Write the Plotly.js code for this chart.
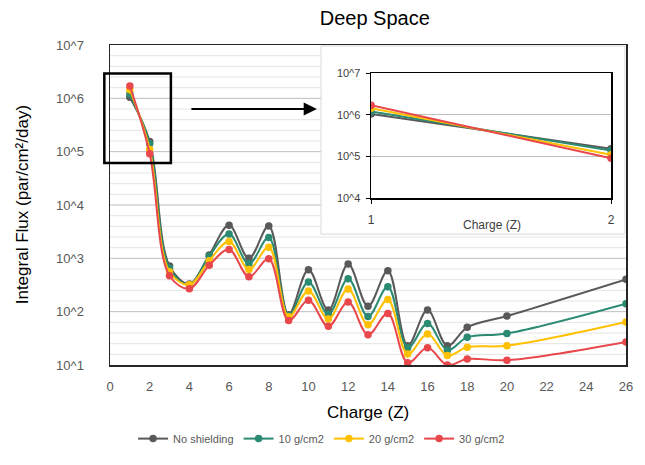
<!DOCTYPE html>
<html>
<head>
<meta charset="utf-8">
<script src="https://cdn.plot.ly/plotly-3.0.1.min.js"></script>
<style>html,body{margin:0;padding:0;background:#fff;}#chart{width:645px;height:465px;}</style>
</head>
<body>
<div id="chart"></div>
<script>
// ---- data ----
var charge = [1, 2, 3, 4, 5, 6, 7, 8, 9, 10, 11, 12, 13, 14, 15, 16, 17, 18, 20, 26];
var noShielding = [1.05e6, 1.55e5, 720, 330, 1150, 4150, 1000, 4040, 88, 612, 107, 787, 126, 585, 23, 107, 23, 51, 83, 404];
var shield10 = [1.2e6, 1.4e5, 650, 320, 1100, 2850, 790, 2450, 85, 361, 89, 415, 81, 294, 21, 60, 19, 33, 39, 141];
var shield20 = [1.45e6, 1.1e5, 560, 320, 900, 2070, 620, 1620, 80, 245, 73, 265, 57, 169, 16, 38, 15, 21.5, 23, 64];
var shield30 = [1.7e6, 9.1e4, 470, 270, 740, 1460, 450, 980, 68, 163, 53, 151, 37, 92, 11, 21, 10, 13, 12.3, 27];
var seriesNames = ['No shielding', '10 g/cm2', '20 g/cm2', '30 g/cm2'];
var xTicks = [0, 2, 4, 6, 8, 10, 12, 14, 16, 18, 20, 22, 24, 26];
var yTickVals = [10, 100, 1000, 1e4, 1e5, 1e6, 1e7];
var yTickText = ['10^1', '10^2', '10^3', '10^4', '10^5', '10^6', '10^7'];
var insetX = [1, 2];
var insetYVals = [1e4, 1e5, 1e6, 1e7];
var insetYText = ['10^4', '10^5', '10^6', '10^7'];

var colors = ['#595959', '#2b8a72', '#ffc000', '#e8474b'];
var allSeries = [noShielding, shield10, shield20, shield30];
var FONT = 'Liberation Sans, Arial, sans-serif';

var traces = [];
allSeries.forEach(function (s, i) {
  traces.push({
    x: charge, y: s, name: seriesNames[i], type: 'scatter', mode: 'lines+markers',
    line: {color: colors[i], width: 2, shape: 'spline', smoothing: 1},
    marker: {color: colors[i], size: 7.5},
    xaxis: 'x', yaxis: 'y'
  });
});
allSeries.forEach(function (s, i) {
  traces.push({
    x: charge.slice(0, 2), y: s.slice(0, 2), name: seriesNames[i], type: 'scatter', mode: 'lines+markers',
    line: {color: colors[i], width: 2},
    marker: {color: colors[i], size: 7.5},
    showlegend: false,
    xaxis: 'x2', yaxis: 'y2'
  });
});

// ---- decorations: gridlines (stop at inset box) ----
var insetBox = {x0: 0.409, x1: 0.998, y0: 0.409, y1: 0.997};
var shapes = [];
for (var d = 1; d < 7; d++) {
  for (var k = 0; k < 5; k++) {
    var lg = d + k / 5;
    if (lg <= 1.0001) continue;
    var py = (lg - 1) / 6;
    var xEnd = (py > insetBox.y0 && py < insetBox.y1) ? insetBox.x0 : 1;
    shapes.push({type: 'line', xref: 'paper', yref: 'paper', x0: 0, x1: xEnd, y0: py, y1: py,
      line: {color: k === 0 ? '#bfbfbf' : '#e4e4e4', width: 1}, layer: 'below'});
  }
}
shapes.push({type: 'rect', xref: 'paper', yref: 'paper', x0: insetBox.x0, x1: insetBox.x1, y0: insetBox.y0, y1: insetBox.y1,
  line: {color: '#d9d9d9', width: 1}, fillcolor: 'rgba(255,255,255,0)', layer: 'below'});
// zoom rectangle
shapes.push({type: 'rect', xref: 'paper', yref: 'paper', x0: -0.011, x1: 0.118, y0: 0.631, y1: 0.911,
  line: {color: '#000', width: 2.5}, fillcolor: 'rgba(0,0,0,0)', layer: 'above'});

var layout = {
  width: 645, height: 465,
  margin: {l: 110, r: 19, t: 45, b: 90},
  paper_bgcolor: '#fff', plot_bgcolor: 'rgba(0,0,0,0)',
  font: {family: FONT, color: '#595959'},
  title: {text: 'Deep Space', font: {family: FONT, size: 20, color: '#000'},
    xref: 'container', yref: 'container', x: 0.581, xanchor: 'center', y: 0.962, yanchor: 'middle'},
  showlegend: true,
  legend: {orientation: 'h', x: 0.41, xanchor: 'center', y: -0.23, yanchor: 'middle',
    font: {family: FONT, size: 11, color: '#595959'}, itemwidth: 30, tracegroupgap: 0},
  xaxis: {domain: [0, 1], range: [0, 26], tickvals: xTicks, ticktext: xTicks.map(String),
    showgrid: false, zeroline: false, showline: true, mirror: true, linecolor: '#262626', linewidth: 1.5,
    ticks: '', tickfont: {size: 13, color: '#595959'}, ticklabelstandoff: 9, fixedrange: true},
  yaxis: {domain: [0, 1], type: 'log', range: [1, 7], tickvals: yTickVals, ticktext: yTickText,
    showgrid: false, zeroline: false, showline: true, mirror: true, linecolor: '#262626', linewidth: 1.5,
    ticks: '', tickfont: {size: 13, color: '#595959'}, ticklabelstandoff: 22, fixedrange: true},
  xaxis2: {domain: [0.506, 0.971], anchor: 'y2', range: [1, 2], tickvals: insetX, ticktext: insetX.map(String),
    showgrid: false, zeroline: false, showline: true, mirror: true, linecolor: '#000', linewidth: 1.5,
    ticks: 'outside', ticklen: 4, tickcolor: '#000', tickfont: {size: 12, color: '#404040'}, ticklabelstandoff: 6, fixedrange: true},
  yaxis2: {domain: [0.521, 0.912], anchor: 'x2', type: 'log', range: [4, 7], tickvals: insetYVals, ticktext: insetYText,
    showgrid: true, gridcolor: '#bfbfbf', gridwidth: 1, zeroline: false, showline: true, mirror: true, linecolor: '#000', linewidth: 1.5,
    ticks: 'outside', ticklen: 4, tickcolor: '#000', tickfont: {size: 11, color: '#404040'}, ticklabelstandoff: 3, fixedrange: true},
  shapes: shapes,
  annotations: [
    {text: 'Charge (Z)', xref: 'paper', yref: 'paper', x: 0.5, y: -0.148, xanchor: 'center', yanchor: 'middle',
      showarrow: false, font: {family: FONT, size: 17, color: '#000'}},
    {text: 'Integral Flux (par/cm²/day)', xref: 'paper', yref: 'paper', x: -0.17, y: 0.5, xanchor: 'center', yanchor: 'middle',
      textangle: -90, showarrow: false, font: {family: FONT, size: 17, color: '#000'}},
    {text: 'Charge (Z)', xref: 'paper', yref: 'paper', x: 0.74, y: 0.439, xanchor: 'center', yanchor: 'middle',
      showarrow: false, font: {family: FONT, size: 12, color: '#404040'}},
    {text: '', xref: 'paper', yref: 'paper', x: 0.401, y: 0.8, ax: -127, ay: 0, showarrow: true,
      arrowhead: 2, arrowsize: 1.2, arrowwidth: 2.2, arrowcolor: '#000'}
  ]
};

Plotly.newPlot('chart', traces, layout, {displayModeBar: false, staticPlot: true});
</script>
</body>
</html>
